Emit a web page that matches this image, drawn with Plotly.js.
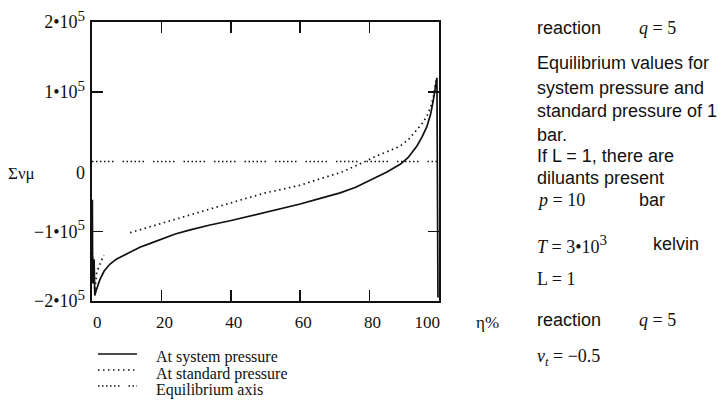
<!DOCTYPE html>
<html>
<head>
<meta charset="utf-8">
<script src="https://cdn.plot.ly/plotly-3.0.1.min.js"></script>
<style>html,body{margin:0;padding:0;background:#fff;}#chart{width:723px;height:418px;}</style>
</head>
<body>
<div id="chart"></div>
<script>
// ---- data (eta %, sum nu*mu) ----
var xSys = [0.1, 0.2, 0.3, 0.4, 0.6, 0.8, 1.2, 2.3, 3.5, 5.2, 7, 9, 11.5, 13.8, 17, 20, 24, 28.3, 34, 39.8, 45, 51, 55, 60, 65, 71.5, 76, 80, 85, 88.8, 91, 93.6, 95.2, 96.5, 97.6, 98.4, 99.1, 99.4, 99.7];
var ySys = [-55000, -175000, -120000, -160000, -140000, -192000, -185000, -169000, -157000, -147000, -140000, -135000, -129000, -123000, -117000, -111000, -104000, -98000, -91000, -85000, -79000, -72000, -67000, -61000, -54000, -45000, -37000, -27000, -15000, -4000, 5000, 22000, 36000, 50000, 68000, 89000, 113000, 120000, -195000];

var xStd = [0.1, 0.4, 0.8, 1.35, 2.3, 3.4, null, 11, 15, 20, 24, 28.3, 34, 39.8, 45, 50, 55, 60, 65, 71.5, 77, 82, 85.5, 88.8, 91.5, 93.6, 95.2, 96.5, 97.6, 98.4, 99.1, 99.5];
var yStd = [-130000, -160000, -185000, -159000, -147000, -134000, null, -102000, -96000, -89000, -83000, -77000, -68000, -59000, -52000, -45000, -40000, -34000, -26000, -16000, -4000, 8000, 15000, 22000, 33000, 46000, 55000, 65000, 78000, 93000, 115000, 120000];

var xEq = [0, 100];
var yEq = [0, 0];

var SUP5 = "<sup><span style='font-size:15px'>5</span></sup>";
var xTickVals = [0, 20, 40, 60, 80, 100];
var xTickText = ["\u00a00", "20", "40", "60", "80", "100\u00a0\u00a0\u00a0\u00a0\u00a0\u00a0\u00a0"];
var yTickVals = [-200000, -100000, 0, 100000, 200000];
var yTickText = ["\u22122\u202210" + SUP5, "\u22121\u202210" + SUP5, "\u00a0<br>0", "1\u202210" + SUP5, "2\u202210" + SUP5];
var yMarkVals = [-100000, 100000];

var legendLabels = ["At system pressure", "At standard pressure", "Equilibrium axis"];

// ---- styles ----
var SERIF = "Liberation Serif, Times New Roman, serif";
var SANS = "Liberation Sans, Arial, sans-serif";
var eqDash = "1.5px,2.5px,1.5px,2.5px,1.5px,2.5px,1.5px,2.5px,1.5px,2.5px,1.5px,9px";
var stdDash = "1.5px,3.5px";

var L = 92, R = 284, T = 22, B = 117, W = 723, H = 418;
var PW = W - L - R, PH = H - T - B;
function px(x) { return (x - L) / PW; }
function py(y) { return (H - B - y) / PH; }

var traces = [
  {x: xSys, y: ySys, type: "scatter", mode: "lines", line: {color: "#111", width: 1.7}, showlegend: false, hoverinfo: "skip"},
  {x: xStd, y: yStd, type: "scatter", mode: "lines", line: {color: "#111", width: 1.7, dash: stdDash}, connectgaps: false, showlegend: false, hoverinfo: "skip"},
  {x: xEq, y: yEq, type: "scatter", mode: "lines", yaxis: "y2", line: {color: "#111", width: 1.5, dash: eqDash}, showlegend: false, hoverinfo: "skip"}
];

function ann(text, x, y, font, anchor) {
  return {text: text, x: px(x), y: py(y), xref: "paper", yref: "paper", showarrow: false,
          xanchor: anchor || "left", yanchor: "middle", font: font, borderpad: 0};
}
var fSans = {family: SANS, size: 18, color: "#111"};
var fSerif = {family: SERIF, size: 18, color: "#111"};
var fSerif17 = {family: SERIF, size: 17, color: "#111"};
var fLeg = {family: SERIF, size: 16, color: "#111"};

var annotations = [
  ann("\u03a3\u03bd\u03bc", 21, 173, fSerif17, "center"),
  ann("\u03b7%", 487, 322, fSerif17, "center"),
  ann("reaction", 536, 28, fSans),
  ann("<i>q</i> = 5", 638, 28, fSerif),
  ann("Equilibrium values for", 536, 63, fSans),
  ann("system pressure and", 536, 88, fSans),
  ann("standard pressure of 1", 536, 111, fSans),
  ann("bar.", 536, 135, fSans),
  ann("If L = 1, there are", 536, 156, fSans),
  ann("diluants present", 536, 178, fSans),
  ann("<i>p</i> = 10", 536, 200, fSerif),
  ann("bar", 638, 200, fSans),
  ann("<i>T</i> = 3\u202210<sup><span style='font-size:15px'>3</span></sup>", 536, 244, fSerif),
  ann("kelvin", 652, 244, fSans),
  ann("L = 1", 536, 279, fSerif),
  ann("reaction", 536, 320, fSans),
  ann("<i>q</i> = 5", 638, 320, fSerif),
  ann("<i>v<sub>t</sub></i> = \u22120.5", 536, 357, fSerif),
  ann(legendLabels[0], 155, 357, fLeg),
  ann(legendLabels[1], 155, 373.5, fLeg),
  ann(legendLabels[2], 155, 390, fLeg)
];

function legLine(y, dash) {
  return {type: "line", xref: "paper", yref: "paper", x0: px(98), x1: px(137), y0: py(y), y1: py(y),
          line: {color: "#111", width: 1.3, dash: dash}};
}
var shapes = [legLine(354, "solid"), legLine(370, stdDash), legLine(386, eqDash)];

var layout = {
  width: W, height: H,
  margin: {l: L, r: R, t: T, b: B, pad: 0},
  paper_bgcolor: "#fff", plot_bgcolor: "#fff",
  showlegend: false,
  xaxis: {range: [0, 100], tickvals: xTickVals, ticktext: xTickText, ticks: "inside", ticklen: 11, tickwidth: 1.5,
          tickcolor: "#111", showline: true, linecolor: "#111", linewidth: 2, mirror: "ticks",
          showgrid: false, zeroline: false, tickfont: fSerif17, ticklabelshift: 3, ticklabelstandoff: 5},
  yaxis: {range: [-200000, 200000], tickvals: yMarkVals, ticks: "inside", ticklen: 11, tickwidth: 1.5,
          tickcolor: "#111", showline: true, linecolor: "#111", linewidth: 2, mirror: "ticks",
          showgrid: false, zeroline: false, showticklabels: false},
  yaxis2: {range: [-200000, 200000], overlaying: "y", side: "left", anchor: "x", tickvals: yTickVals, ticktext: yTickText,
           ticks: "", showline: false, showgrid: false, zeroline: false, tickfont: {family: SERIF, size: 18, color: "#111"},
           ticklabelstandoff: 6},
  annotations: annotations,
  shapes: shapes
};

Plotly.newPlot("chart", traces, layout, {staticPlot: true, displayModeBar: false});
</script>
</body>
</html>
